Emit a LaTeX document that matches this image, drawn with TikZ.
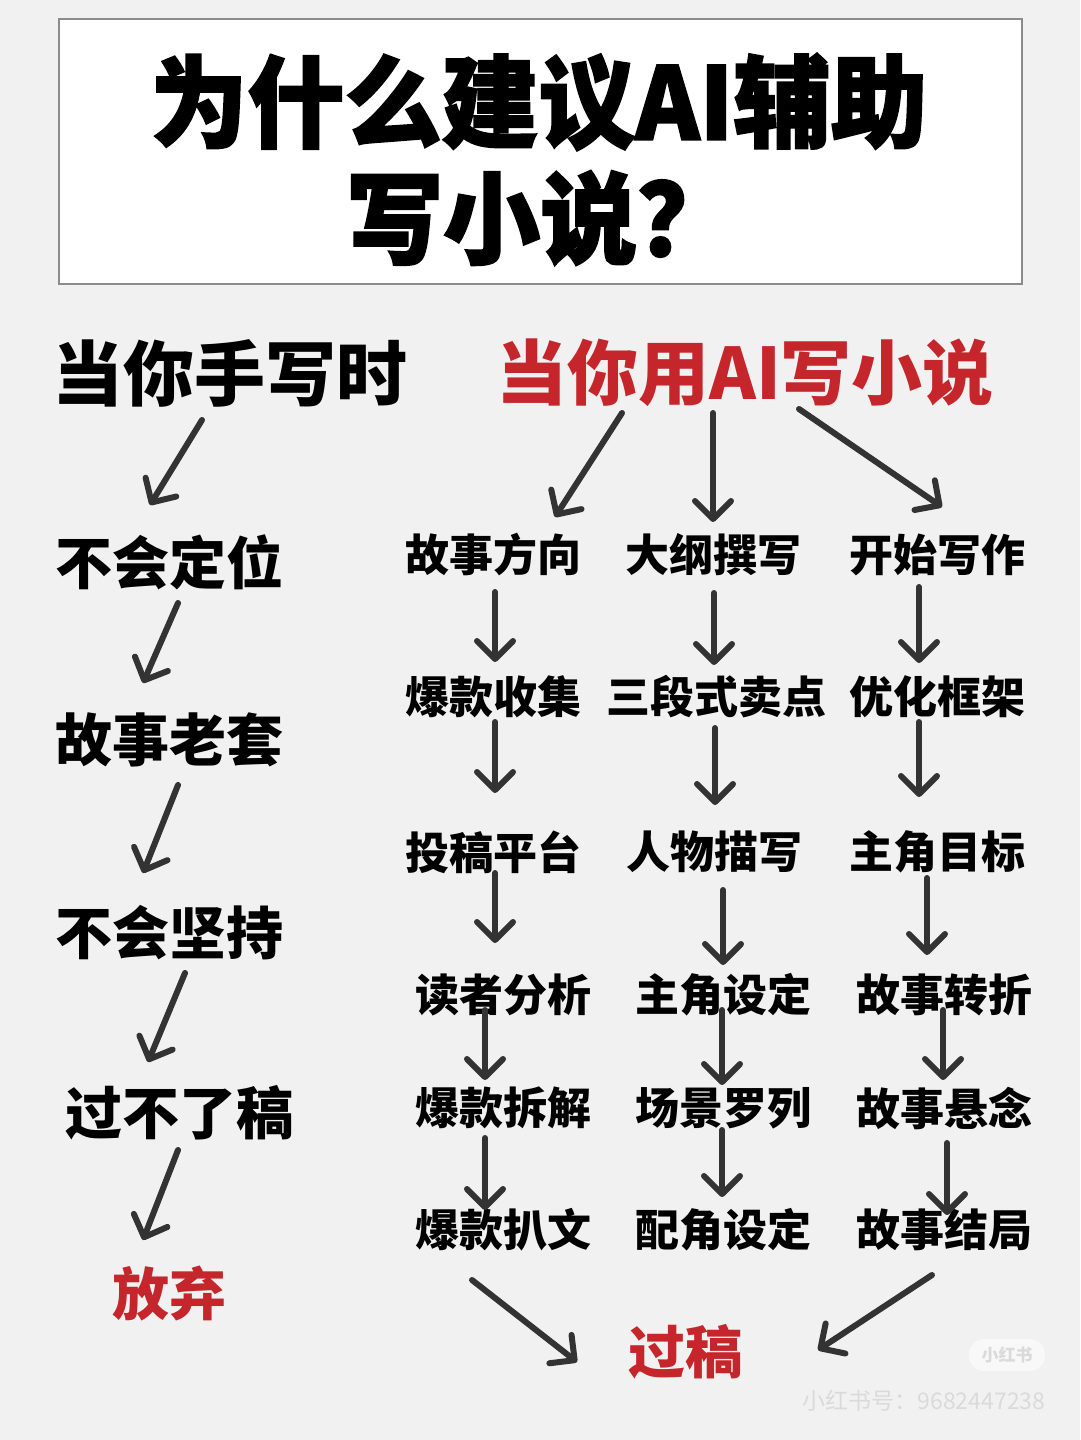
\documentclass[tikz,border=0pt]{standalone}
\usepackage{fontspec}
\newfontfamily\cjk{Noto Sans CJK SC}
\newfontfamily\cjkheavy{Noto Sans CJK SC}[FakeBold=2]
\usetikzlibrary{arrows.meta}
\definecolor{bgc}{HTML}{F1F1F1}
\definecolor{redtxt}{HTML}{C4262B}
\definecolor{arrowc}{HTML}{333333}
\definecolor{boxline}{HTML}{8C8C8C}
\definecolor{wmark}{HTML}{DADADA}
\newcommand\linkarr[4]{\draw[arr] ([shift={(#2)}]#1.center) -- ([shift={(#4)}]#3.center);}
\tikzset{
  arr/.style={draw=arrowc, line width=6pt, line cap=round,
    -{Straight Barb[length=18pt,width=36pt,round]}},
  lbl/.style={inner sep=0pt, font=\cjk\bfseries\fontsize{44}{44}\selectfont},
  leftlbl/.style={inner sep=0pt, font=\cjk\bfseries\fontsize{57}{57}\selectfont},
  hdr/.style={inner sep=0pt, font=\cjk\bfseries\fontsize{71}{71}\selectfont},
  ttl/.style={inner sep=0pt, xscale=0.97, font=\cjkheavy\bfseries\fontsize{100}{100}\selectfont},
}
\begin{document}
\begin{tikzpicture}[x=1pt,y=-1pt]
\useasboundingbox (0,0) rectangle (1080,1440);
\fill[bgc] (0,0) rectangle (1080,1440);
% title
\node[draw=boxline, fill=white, line width=2pt, minimum width=963pt, minimum height=265pt, anchor=north west, inner sep=0pt] (titlebox) at (58,18) {};
\node[ttl] (t1) at (539,102) {为什么建议AI辅助};
\node[ttl, anchor=west] (t2) at (346,218) {写小说？};
% left column
\node[hdr] (h1) at (230,373) {当你手写时};
\node[leftlbl] (l1) at (169,562) {不会定位};
\node[leftlbl] (l2) at (169,740) {故事老套};
\node[leftlbl] (l3) at (169,933) {不会坚持};
\node[leftlbl] (l4) at (179,1113) {过不了稿};
\node[leftlbl, text=redtxt] (l5) at (169,1293) {放弃};
% right header
\node[hdr, text=redtxt] (h2) at (745,373) {当你用AI写小说};
% grid
\node[lbl] (r11) at (493,555) {故事方向};
\node[lbl] (r12) at (713,555) {大纲撰写};
\node[lbl] (r13) at (937,555) {开始写作};
\node[lbl] (r21) at (493,697) {爆款收集};
\node[lbl] (r22) at (716,697) {三段式卖点};
\node[lbl] (r23) at (937,697) {优化框架};
\node[lbl] (r31) at (493,852) {投稿平台};
\node[lbl] (r32) at (714,852) {人物描写};
\node[lbl] (r33) at (937,852) {主角目标};
\node[lbl] (r41) at (503,995) {读者分析};
\node[lbl] (r42) at (723,995) {主角设定};
\node[lbl] (r43) at (944,995) {故事转折};
\node[lbl] (r51) at (503,1108) {爆款拆解};
\node[lbl] (r52) at (723,1108) {场景罗列};
\node[lbl] (r53) at (944,1108) {故事悬念};
\node[lbl] (r61) at (503,1230) {爆款扒文};
\node[lbl] (r62) at (723,1230) {配角设定};
\node[lbl] (r63) at (944,1230) {故事结局};
\node[leftlbl, text=redtxt] (goal) at (685,1352) {过稿};
% watermark
\node[fill=white, fill opacity=0.55, text opacity=1, rounded corners=15pt, minimum width=76pt, minimum height=32pt, inner sep=0pt, text=wmark, font=\cjk\bfseries\fontsize{17}{17}\selectfont] (badge) at (1007,1355) {小红书};
\node[inner sep=0pt, text=wmark, font=\cjk\fontsize{23}{23}\selectfont] (wm) at (924,1401) {小红书号：9682447238};
% left arrows
\linkarr{h1}{-28,47}{l1}{-19,-57}
\linkarr{l1}{9,41}{l2}{-26,-57}
\linkarr{l2}{9,45}{l3}{-26,-60}
\linkarr{l3}{16,40}{l4}{-31,-51}
\linkarr{l4}{-1,37}{l5}{-26,-53}
% header arrows
\linkarr{h2}{-123,40}{r11}{62,-38}
\linkarr{h2}{-32,40}{r12}{0,-33}
\linkarr{h2}{54,36}{r13}{5,-48}
% column 1
\linkarr{r11}{2,37}{r21}{2,-35}
\linkarr{r21}{2,25}{r31}{2,-59}
\linkarr{r31}{2,21}{r41}{-8,-52}
\linkarr{r41}{-18,15}{r51}{-18,-28}
\linkarr{r51}{-18,30}{r61}{-18,-20}
% column 2
\linkarr{r12}{1,38}{r22}{-2,-32}
\linkarr{r22}{-1,31}{r32}{1,-47}
\linkarr{r32}{9,38}{r42}{0,-30}
\linkarr{r42}{-1,15}{r52}{-1,-23}
\linkarr{r52}{-1,22}{r62}{-1,-33}
% column 3
\linkarr{r13}{-18,32}{r23}{-18,-34}
\linkarr{r23}{-18,25}{r33}{-18,-55}
\linkarr{r33}{-10,26}{r43}{-17,-40}
\linkarr{r43}{-1,15}{r53}{-1,-28}
\linkarr{r53}{3,35}{r63}{3,-15}
% to goal
\linkarr{r61}{-31,50}{goal}{-108,10}
\linkarr{r63}{-12,45}{goal}{133,-2}
\end{tikzpicture}
\end{document}
